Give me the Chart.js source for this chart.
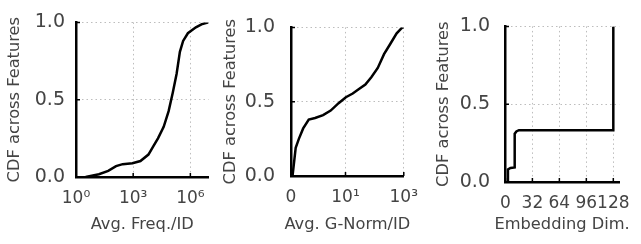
<!DOCTYPE html>
<html>
<head>
<meta charset="utf-8">
<script src="https://cdn.jsdelivr.net/npm/chart.js@4/dist/chart.umd.min.js"></script>
<style>
  body { margin: 0; background: #fff; }
  #wrap { position: relative; width: 641px; height: 244px; }
  canvas { position: absolute; top: 0; }
</style>
</head>
<body>
<div id="wrap">
  <canvas id="freqChart" width="216" height="244" style="left:0px"></canvas>
  <canvas id="gnormChart" width="213" height="244" style="left:216px"></canvas>
  <canvas id="dimChart" width="212" height="244" style="left:429px"></canvas>
</div>
<script>
// panel 1: average frequency per ID (log x)
const freqX = [3.2, 16, 49, 126, 282, 912, 2400, 6310, 11500, 20000, 39800, 72400, 120000, 190000, 282000, 417000, 741000, 1950000, 4270000, 9000000];
const freqCdf = [0, 0.018, 0.04, 0.07, 0.083, 0.089, 0.103, 0.145, 0.2, 0.25, 0.325, 0.426, 0.547, 0.668, 0.81, 0.88, 0.93, 0.968, 0.99, 1.0];
const freqTicks = [1, 1e3, 1e6];
const freqTickLabels = ["10\u2070", "10\u00b3", "10\u2076"];

// panel 2: average gradient norm per ID (symlog x)
const gnormX = [0.06, 0.185, 0.31, 0.48, 0.7, 0.95, 1.7, 3.1, 5.8, 10.3, 17.7, 29, 48, 78, 128, 210, 347, 570, 890, 1000];
const gnormCdf = [0, 0.19, 0.25, 0.32, 0.38, 0.39, 0.41, 0.44, 0.49, 0.53, 0.555, 0.585, 0.616, 0.666, 0.727, 0.82, 0.89, 0.96, 1.0, 1.0];
const gnormTicks = [0, 10, 1000];
const gnormTickLabels = ["0", "10\u00b9", "10\u00b3"];

// panel 3: embedding dimension (step CDF)
const dimX = [3, 3, 6, 11, 11, 13, 16, 128, 128];
const dimCdf = [0, 0.08, 0.09, 0.094, 0.31, 0.325, 0.333, 0.333, 1.0];
const dimTicks = [0, 32, 64, 96, 128];

const cdfTicks = [0, 0.5, 1.0];
const yTitle = "CDF across Features";

Chart.defaults.font.family = "'DejaVu Sans', sans-serif";
Chart.defaults.font.size = 16;
Chart.defaults.color = "#444";

// symmetric log scale: linear below 1, log10 above
const LIN = 0.87;
function symlog(v) { return v <= 1 ? v * LIN : LIN + Math.log10(v); }
function symexp(u) { return u <= LIN ? u / LIN : Math.pow(10, u - LIN); }

class SymlogScale extends Chart.LinearScale {
  getPixelForValue(value) {
    const a = symlog(this.min), b = symlog(this.max);
    return this.getPixelForDecimal((symlog(value) - a) / (b - a));
  }
  getValueForPixel(pixel) {
    const a = symlog(this.min), b = symlog(this.max);
    return symexp(a + this.getDecimalForPixel(pixel) * (b - a));
  }
}
SymlogScale.id = "symlog";
SymlogScale.defaults = {};
Chart.register(SymlogScale);

// ticks point into the plot, like the original
const inwardTicks = {
  id: "inwardTicks",
  afterDraw(chart) {
    const ctx = chart.ctx;
    const { left, bottom } = chart.chartArea;
    const x = chart.scales.x, y = chart.scales.y;
    ctx.save();
    ctx.strokeStyle = "#000";
    ctx.lineWidth = 1.5;
    ctx.beginPath();
    x.ticks.forEach((t, i) => {
      const px = x.getPixelForTick(i);
      ctx.moveTo(px, bottom);
      ctx.lineTo(px, bottom - 4);
    });
    y.ticks.forEach((t, i) => {
      const py = y.getPixelForTick(i);
      ctx.moveTo(left, py);
      ctx.lineTo(left + 4, py);
    });
    ctx.stroke();
    ctx.restore();
  },
};

// axis titles drawn without the width squeeze of the built-in title
const axisTitles = {
  id: "axisTitles",
  afterDraw(chart, args, opts) {
    const ctx = chart.ctx;
    const { left, right, top, bottom } = chart.chartArea;
    ctx.save();
    ctx.fillStyle = "#444";
    ctx.font = "16.25px 'DejaVu Sans', sans-serif";
    ctx.textAlign = "center";
    ctx.textBaseline = "middle";
    ctx.fillText(opts.xText, (left + right) / 2, chart.height - 19.5);
    ctx.translate(opts.yTitleX, (top + bottom) / 2);
    ctx.rotate(-Math.PI / 2);
    ctx.fillText(opts.yText, 0, 0);
    ctx.restore();
  },
};

function makePanel(id, opts) {
  const ctx = document.getElementById(id).getContext("2d");
  new Chart(ctx, {
    type: "scatter",
    data: {
      datasets: [
        {
          data: opts.xs.map((v, i) => ({ x: v, y: opts.ys[i] })),
          showLine: true,
          borderColor: "#000",
          borderWidth: 2.5,
          pointRadius: 0,
          tension: 0,
        },
      ],
    },
    options: {
      responsive: false,
      animation: false,
      layout: { padding: { top: 12, right: opts.padRight, bottom: 0, left: 0 } },
      plugins: {
        legend: { display: false },
        tooltip: { enabled: false },
        axisTitles: { xText: opts.xTitle, yText: yTitle, yTitleX: 14.6 },
      },
      scales: {
        x: {
          type: opts.xType,
          min: opts.xMin,
          max: opts.xMax,
          afterBuildTicks: (scale) => {
            scale.ticks = opts.xTicks.map((v) => ({ value: v }));
          },
          afterFit: (scale) => { scale.height = opts.xHeight; },
          ticks: {
            padding: 11,
            font: { size: 17 },
            maxRotation: 0,
            autoSkip: false,
            callback: (v, i) => opts.xLabels[i],
          },
          grid: { color: "#bdbdbd", lineWidth: 1, drawTicks: false },
          border: { display: true, color: "#000", width: 2.5, dash: [1.5, 3] },
        },
        y: {
          min: 0,
          max: 1,
          afterBuildTicks: (scale) => {
            scale.ticks = cdfTicks.map((v) => ({ value: v }));
          },
          afterFit: (scale) => { scale.width = opts.yWidth; },
          ticks: {
            padding: opts.yPad,
            font: { size: 19 },
            callback: (v) => v.toFixed(1),
          },
          grid: { color: "#bdbdbd", lineWidth: 1, drawTicks: false },
          border: { display: true, color: "#000", width: 2.5, dash: [1.5, 3] },
        },
      },
    },
    plugins: [inwardTicks, axisTitles],
  });
}

makePanel("freqChart", {
  xs: freqX, ys: freqCdf, xType: "logarithmic", xMin: 1, xMax: 9000000,
  xTicks: freqTicks, xLabels: freqTickLabels, xTitle: "Avg. Freq./ID",
  xHeight: 67, yWidth: 76, yPad: 11, padRight: 3,
});
makePanel("gnormChart", {
  xs: gnormX, ys: gnormCdf, xType: "symlog", xMin: 0, xMax: 1000,
  xTicks: gnormTicks, xLabels: gnormTickLabels, xTitle: "Avg. G-Norm/ID",
  xHeight: 68, yWidth: 75, yPad: 16, padRight: 17.5,
});
makePanel("dimChart", {
  xs: dimX, ys: dimCdf, xType: "linear", xMin: -0.5, xMax: 135,
  xTicks: dimTicks, xLabels: dimTicks.map(String), xTitle: "Embedding Dim.",
  xHeight: 62, yWidth: 76, yPad: 15, padRight: 9,
});
</script>
</body>
</html>
